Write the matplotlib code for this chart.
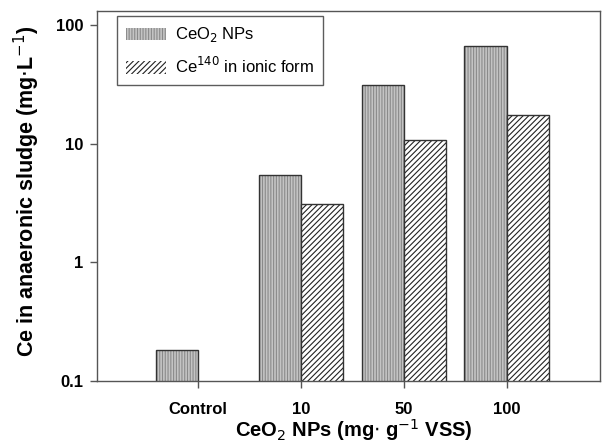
import matplotlib
matplotlib.use("Agg")
import matplotlib.pyplot as plt
import numpy as np
from matplotlib.patches import Patch

categories = ["Control", "10", "50", "100"]
ceo2_nps = [0.182, 5.45, 31.1, 66.6]
ce140_ionic = [np.nan, 3.08, 10.8, 17.6]

plt.rcParams['font.family'] = ['Liberation Sans', 'DejaVu Sans']
plt.rcParams['hatch.linewidth'] = 0.8

fig = plt.figure(figsize=(6.02, 4.44), dpi=100)
ax = fig.add_axes([0.161, 0.142, 0.836, 0.833])

x = np.arange(len(categories))
w = 0.41

# CeO2 NPs: gray stippled
ax.bar(x - w/2, ceo2_nps, w, facecolor='#c4c4c4', edgecolor='#8a8a8a',
       hatch='||||||', linewidth=0)
ax.bar(x - w/2, ceo2_nps, w, fill=False, edgecolor='#333333', linewidth=1.0)
# Ce140 ionic: diagonal hatch
ion = np.array(ce140_ionic, dtype=float)
mask = ~np.isnan(ion)
ax.bar(x[mask] + w/2, ion[mask], w, facecolor='white', edgecolor='#222222',
       hatch='//////', linewidth=0)
ax.bar(x[mask] + w/2, ion[mask], w, fill=False, edgecolor='#333333', linewidth=1.0)

ax.set_yscale('log')
ax.set_ylim(0.1, 131)
ax.set_xlim(-0.983, 3.91)
ax.set_yticks([0.1, 1, 10, 100])
ax.set_yticklabels(['0.1', '1', '10', '100'])
ax.yaxis.set_minor_locator(matplotlib.ticker.NullLocator())
ax.set_xticks(x)
ax.set_xticklabels(categories)
for lab in ax.get_xticklabels() + ax.get_yticklabels():
    lab.set_fontweight('bold')
    lab.set_fontsize(12)
ax.tick_params(axis='both', direction='out', length=5, width=1, color='#555555', pad=5)
ax.tick_params(axis='x', pad=10)
for s in ax.spines.values():
    s.set_color('#555555')
    s.set_linewidth(1)

ax.set_ylabel('Ce in anaeronic sludge (mg$\\cdot$L$^{-1}$)', fontsize=15.5, fontweight='bold')
ax.yaxis.set_label_coords(-0.109, 0.513)
ax.set_xlabel('CeO$_2$ NPs (mg$\\cdot$ g$^{-1}$ VSS)', fontsize=14.5, fontweight='bold')
ax.xaxis.set_label_coords(0.51, -0.098)

handles = [Patch(facecolor='#c4c4c4', edgecolor='#8a8a8a', hatch='||||||', linewidth=0),
           Patch(facecolor='white', edgecolor='#222222', hatch='//////', linewidth=0)]
leg = ax.legend(handles, ['CeO$_2$ NPs', 'Ce$^{140}$ in ionic form'], loc='upper left',
                bbox_to_anchor=(0.040, 0.986), fancybox=False, frameon=True, fontsize=12,
                handlelength=2.4, handleheight=0.75, borderpad=0.55, labelspacing=0.7,
                handletextpad=0.5, borderaxespad=0)
leg.get_frame().set_edgecolor('#333333')
leg.get_frame().set_linewidth(1)

fig.savefig('out.png', dpi=100)
